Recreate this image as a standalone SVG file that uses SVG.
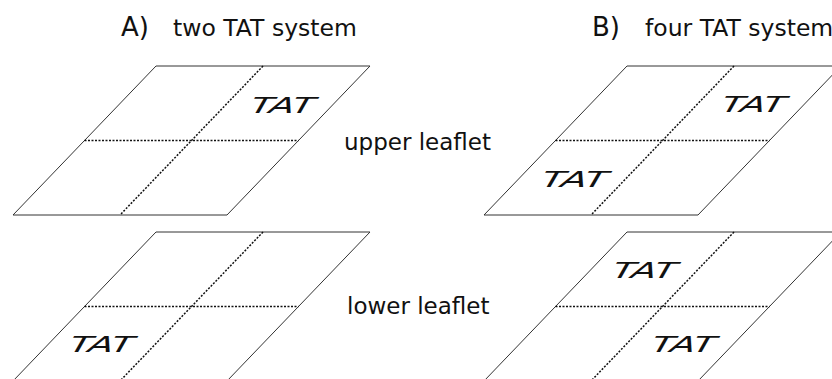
<svg xmlns="http://www.w3.org/2000/svg" width="832" height="379" viewBox="0 0 832 379">
  <style>
    .sheet { fill: none; stroke: #333; stroke-width: 1; }
    .div { fill: none; stroke: #111; stroke-width: 1.5; stroke-dasharray: 2 1.5; }
    .head { font-family: "DejaVu Sans", Verdana, sans-serif; font-size: 23.5px; fill: #111; }
    .tag { font-family: "DejaVu Sans", Verdana, sans-serif; font-size: 26px; fill: #111; }
    .lbl { font-family: "DejaVu Sans", Verdana, sans-serif; font-size: 23px; fill: #111; }
    .tat { font-family: "DejaVu Sans", Verdana, sans-serif; font-style: italic; font-size: 22px; fill: #111; }
  </style>
  <defs>
    <!-- one membrane leaflet: parallelogram split into four quadrants -->
    <g id="leaflet">
      <polygon class="sheet" points="156,0 370,0 227,149 13,149"/>
      <line class="div" x1="84.5" y1="74.5" x2="298.5" y2="74.5"/>
      <line class="div" x1="263" y1="0" x2="120" y2="149"/>
    </g>
  </defs>

  <rect width="832" height="379" fill="#fff"/>

  <!-- headings -->
  <text class="tag" x="121" y="36">A)</text>
  <text class="head" x="173" y="36">two TAT system</text>
  <text class="tag" x="592" y="36">B)</text>
  <text class="head" x="645" y="36">four TAT system</text>

  <!-- side labels -->
  <text class="lbl" x="344" y="150">upper leaflet</text>
  <text class="lbl" x="347" y="314">lower leaflet</text>

  <!-- A: two TAT system -->
  <g id="a-upper">
    <use href="#leaflet" x="0" y="66"/>
    <text class="tat" transform="translate(249,112.5) skewX(-14)" textLength="64" lengthAdjust="spacingAndGlyphs">TAT</text>
  </g>
  <g id="a-lower">
    <use href="#leaflet" x="0" y="232"/>
    <text class="tat" transform="translate(68,351.5) skewX(-14)" textLength="64" lengthAdjust="spacingAndGlyphs">TAT</text>
  </g>

  <!-- B: four TAT system -->
  <g id="b-upper">
    <use href="#leaflet" x="471" y="66"/>
    <text class="tat" transform="translate(720,111.5) skewX(-14)" textLength="64" lengthAdjust="spacingAndGlyphs">TAT</text>
    <text class="tat" transform="translate(540,186.5) skewX(-14)" textLength="66" lengthAdjust="spacingAndGlyphs">TAT</text>
  </g>
  <g id="b-lower">
    <use href="#leaflet" x="471" y="232"/>
    <text class="tat" transform="translate(611,278) skewX(-14)" textLength="64" lengthAdjust="spacingAndGlyphs">TAT</text>
    <text class="tat" transform="translate(650,351.5) skewX(-14)" textLength="64" lengthAdjust="spacingAndGlyphs">TAT</text>
  </g>
</svg>
